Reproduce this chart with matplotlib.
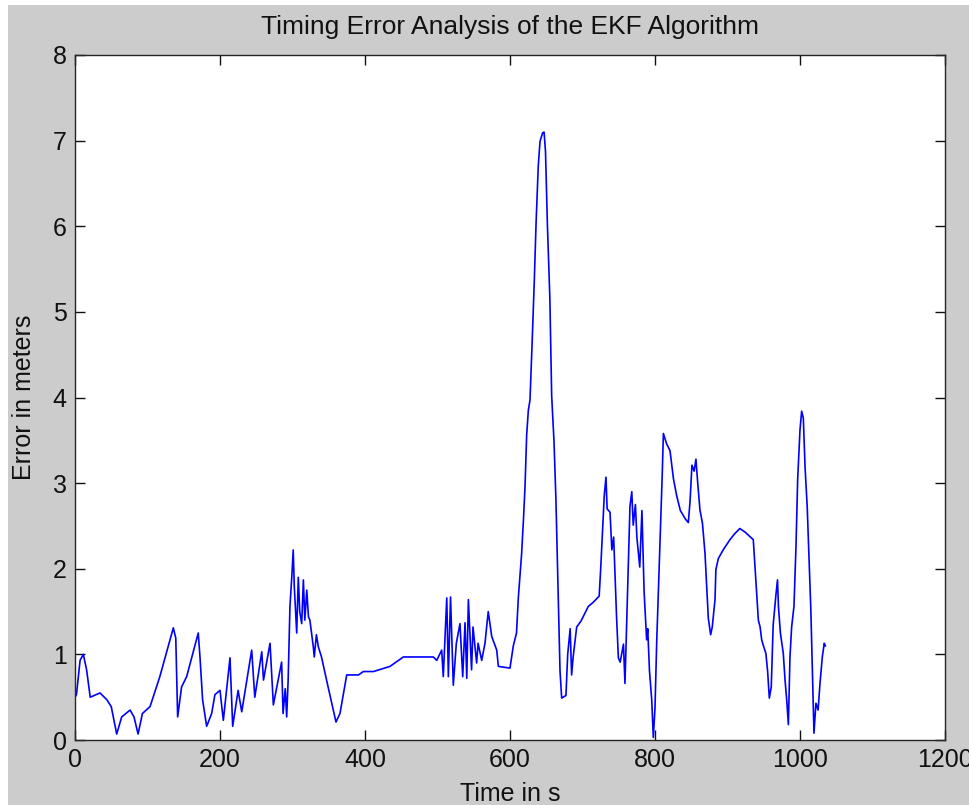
import matplotlib.pyplot as plt
from matplotlib.patches import Rectangle

# valores (tiempo en s, error en m)
time_s = [0, 2, 7, 11.5, 16, 21, 34.5, 44, 50, 57.5, 64.4, 76, 81.4, 87, 93, 103.5, 117,
          135.6, 139, 141.6, 147, 154, 170, 172.4, 176, 181.6, 188.5, 193, 200, 204.6,
          213.8, 217.5, 225, 230, 243.7, 248, 257.6, 260, 269, 273.6, 285, 287, 290, 292,
          294, 296.5, 299, 301, 302.5, 305.8, 308, 310, 312.7, 315, 317, 319.7, 322, 324,
          328.7, 330, 333, 335.6, 340, 347, 360, 365.5, 374.8, 391, 397.7, 411.7, 434.5,
          452.9, 494.3, 499, 505.8, 508, 512.8, 515, 518, 521.8, 526, 531, 534.8, 538,
          540.4, 542.6, 547, 549, 554, 556, 561, 565.5, 570, 574.8, 581.7, 584, 600, 604.6,
          609, 611.5, 616, 618.5, 620.7, 623, 625.3, 627.6, 630.8, 633.6, 636, 639, 641.4,
          645, 647, 649, 651.6, 655, 657.5, 660.7, 663.4, 666.6, 669, 671.3, 677.2, 679.6,
          683, 685, 687, 692, 698, 708, 715, 723, 725, 728, 730, 732.4, 734, 738, 740.5,
          743, 745, 747, 749.5, 752, 756.5, 758.6, 762.3, 765.5, 768, 770, 773, 775, 779,
          782, 785, 788.5, 790, 792.4, 795.5, 797.7, 800, 802.4, 804.6, 807.8, 810, 811.6,
          816, 820.7, 825.5, 830, 835, 842, 846, 848.3, 851, 854, 856.5, 858.6, 862, 865.5,
          869, 871.3, 873.6, 876.8, 879, 882.8, 884, 887.4, 894, 903.4, 910, 917, 924,
          935.6, 938, 940.3, 942.6, 945, 947.2, 950, 953, 955.4, 957.7, 960.4, 963, 967,
          969, 970.3, 973, 977, 979.4, 981.7, 984, 986.2, 988.5, 991.7, 994.5, 996.8, 1000,
          1002.3, 1004.6, 1007, 1010, 1012.4, 1015, 1017.4, 1019.3, 1022, 1025, 1027.6,
          1030.8, 1033.5, 1035]
error_m = [0.5, 0.53, 0.93, 1.0, 0.82, 0.5, 0.55, 0.47, 0.39, 0.07, 0.27, 0.35, 0.27, 0.07,
           0.31, 0.39, 0.74, 1.31, 1.19, 0.27, 0.62, 0.74, 1.25, 0.97, 0.47, 0.16, 0.31,
           0.53, 0.58, 0.23, 0.96, 0.16, 0.58, 0.33, 1.05, 0.5, 1.03, 0.7, 1.13, 0.41, 0.91,
           0.31, 0.6, 0.27, 0.7, 1.56, 1.9, 2.22, 1.79, 1.25, 1.9, 1.5, 1.36, 1.87, 1.4,
           1.75, 1.44, 1.4, 1.09, 0.97, 1.23, 1.09, 0.97, 0.7, 0.21, 0.31, 0.76, 0.76, 0.8,
           0.8, 0.86, 0.97, 0.97, 0.93, 1.05, 0.74, 1.66, 0.74, 1.67, 0.64, 1.13, 1.36, 0.74,
           1.37, 0.72, 1.64, 0.82, 1.32, 0.9, 1.13, 0.93, 1.13, 1.5, 1.21, 1.05, 0.86, 0.84,
           1.1, 1.25, 1.66, 2.17, 2.56, 2.95, 3.56, 3.85, 3.97, 4.70, 5.38, 6.04, 6.70, 6.99,
           7.09, 7.1, 6.87, 6.02, 5.16, 4.02, 3.49, 2.80, 1.64, 0.81, 0.49, 0.52, 1.0, 1.30,
           0.76, 0.96, 1.32, 1.39, 1.56, 1.61, 1.68, 1.98, 2.51, 2.85, 3.07, 2.7, 2.66, 2.22,
           2.37, 1.90, 1.44, 0.96, 0.91, 1.12, 0.66, 1.78, 2.73, 2.90, 2.51, 2.75, 2.37,
           2.02, 2.68, 1.73, 1.17, 1.3, 0.81, 0.47, 0.03, 0.37, 1.15, 1.72, 2.51, 3.10, 3.58,
           3.46, 3.38, 3.05, 2.85, 2.68, 2.58, 2.54, 2.78, 3.21, 3.14, 3.28, 3.04, 2.69, 2.53,
           2.18, 1.81, 1.42, 1.23, 1.32, 1.64, 1.99, 2.12, 2.22, 2.34, 2.41, 2.47, 2.43,
           2.34, 2.02, 1.71, 1.40, 1.32, 1.17, 1.09, 1.01, 0.80, 0.49, 0.62, 1.34, 1.71,
           1.87, 1.56, 1.25, 1.01, 0.70, 0.47, 0.18, 0.97, 1.32, 1.56, 2.26, 3.04, 3.62,
           3.84, 3.76, 3.19, 2.72, 2.14, 1.52, 0.74, 0.08, 0.43, 0.35, 0.66, 0.97, 1.13, 1.1]

x_ticks = [0, 200, 400, 600, 800, 1000, 1200]
y_ticks = [0, 1, 2, 3, 4, 5, 6, 7, 8]

plt.rcParams['font.family'] = ['Liberation Sans', 'DejaVu Sans']

fig = plt.figure(figsize=(9.69, 8.05), dpi=100, facecolor='#cccccc')
# borde blanco de la captura (izquierda y arriba)
fig.patches.append(Rectangle((0, 0), 8 / 969, 1, transform=fig.transFigure,
                             facecolor='white', edgecolor='none', zorder=-1))
fig.patches.append(Rectangle((0, 1 - 5 / 805), 1, 5 / 805, transform=fig.transFigure,
                             facecolor='white', edgecolor='none', zorder=-1))

ax = fig.add_axes([0.0774, 0.0807, 0.8978, 0.851])
ax.set_facecolor('white')

ax.plot(time_s, error_m, color='#0000ff', lw=1.2)

ax.set_xlim(0, 1200)
ax.set_ylim(0, 8)
ax.set_xticks(x_ticks)
ax.set_yticks(y_ticks)
ax.tick_params(direction='in', length=7, width=1, top=True, right=True,
               labelsize=18, colors='#111111', pad=6)
for s in ax.spines.values():
    s.set_color('#262626')
    s.set_linewidth(1)

ax.set_title('Timing Error Analysis of the EKF Algorithm', fontsize=19, pad=15, color='#111111')
ax.set_xlabel('Time in s', fontsize=18, labelpad=7, color='#111111')
ax.set_ylabel('Error in meters', fontsize=18, labelpad=12, color='#111111')

fig.savefig('out.png', dpi=100, facecolor=fig.get_facecolor())
